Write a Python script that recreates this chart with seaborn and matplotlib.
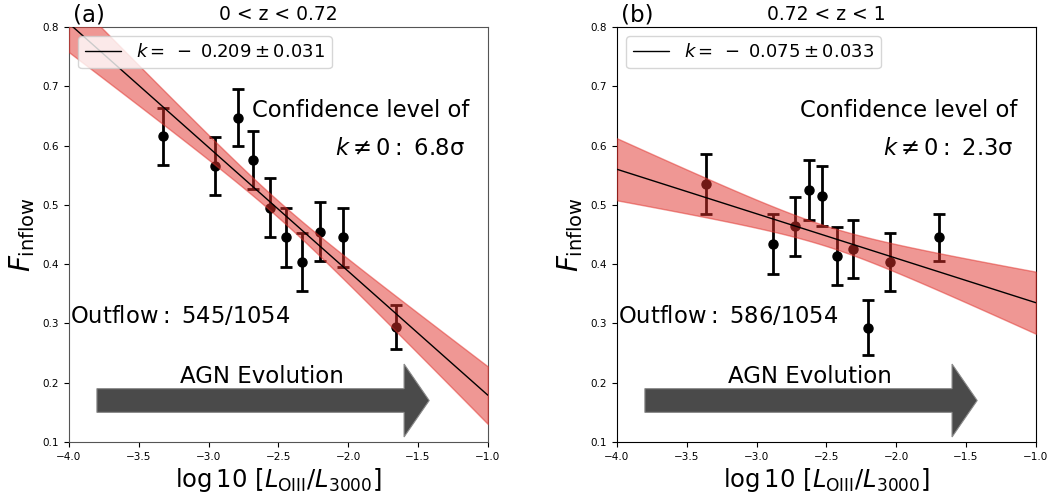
import matplotlib
matplotlib.use("Agg")
import matplotlib.pyplot as plt
import seaborn as sns
import numpy as np
import pandas as pd

# 데이터 (a) 0 < z < 0.72
x_a = [-3.325, -2.955, -2.792, -2.681, -2.561, -2.449, -2.332, -2.203, -2.036, -1.659]
y_a = [0.616, 0.566, 0.647, 0.576, 0.495, 0.445, 0.404, 0.455, 0.445, 0.294]
err_a = [0.048, 0.049, 0.048, 0.049, 0.050, 0.050, 0.049, 0.050, 0.049, 0.037]

# 데이터 (b) 0.72 < z < 1
x_b = [-3.361, -2.885, -2.727, -2.627, -2.528, -2.423, -2.311, -2.200, -2.045, -1.693]
y_b = [0.535, 0.434, 0.464, 0.525, 0.515, 0.414, 0.425, 0.293, 0.404, 0.445]
err_b = [0.050, 0.050, 0.050, 0.050, 0.050, 0.049, 0.049, 0.046, 0.049, 0.040]

# 기울기, 절편, 오차
k_a, b_a, sk_a, s0_a = -0.209, -0.030, 0.031, 0.014
k_b, b_b, sk_b, s0_b = -0.075, 0.260, 0.033, 0.017
pivot = -2.5

panels = [
    dict(tag="(a)", title="0 < z < 0.72", x=x_a, y=y_a, err=err_a,
         k=k_a, b=b_a, sk=sk_a, s0=s0_a, sig="6.8", out="545/1054",
         label=r"$k=\;-\;0.209\pm0.031$", spine="#555555"),
    dict(tag="(b)", title="0.72 < z < 1", x=x_b, y=y_b, err=err_b,
         k=k_b, b=b_b, sk=sk_b, s0=s0_b, sig="2.3", out="586/1054",
         label=r"$k=\;-\;0.075\pm0.033$", spine="black"),
]

sns.set_style("ticks")
plt.rcParams["font.family"] = ["DejaVu Sans"]
plt.rcParams["mathtext.fontset"] = "dejavusans"
plt.rcParams["text.color"] = "black"
plt.rcParams["axes.labelcolor"] = "black"
plt.rcParams["xtick.color"] = "black"
plt.rcParams["ytick.color"] = "black"

fig = plt.figure(figsize=(10.55, 4.99), dpi=100)
axes = [fig.add_axes([0.0654, 0.1142, 0.397, 0.8317]),
        fig.add_axes([0.5848, 0.1142, 0.397, 0.8317])]

xs = np.linspace(-4, -1, 200)

for ax, p in zip(axes, panels):
    df = pd.DataFrame({"x": p["x"], "y": p["y"], "err": p["err"]})

    # 데이터 점 + 오차막대
    ax.errorbar(df["x"], df["y"], yerr=df["err"], fmt="o", color="black",
                ms=6.5, elinewidth=2, capsize=4.5, capthick=2, zorder=2)

    # 적합선과 신뢰 구간
    fit = p["k"] * xs + p["b"]
    half = np.sqrt(p["s0"] ** 2 + (p["sk"] * (xs - pivot)) ** 2)
    ax.fill_between(xs, fit - half, fit + half, color="#e0302a", alpha=0.5,
                    lw=1, zorder=3)
    sns.lineplot(x=xs, y=fit, color="black", lw=1, ax=ax, zorder=4,
                 label=p["label"])

    # 화살표
    ax.arrow(-3.8, 0.17, 2.38, 0, width=0.04, head_width=0.123,
             head_length=0.18, length_includes_head=True,
             fc="#4a4a4a", ec="#8a8a8a", lw=0.8, zorder=5)
    ax.text(-2.62, 0.2, "AGN Evolution", fontsize=16.5, ha="center",
            va="baseline")

    ax.text(-3.993, 0.301, "Outflow$:$ " + p["out"], fontsize=16.3,
            ha="left", va="baseline")
    ax.text(-2.692, 0.6486, "Confidence level of", fontsize=16.3,
            ha="left", va="baseline")
    ax.text(-2.096, 0.584, r"$k\neq0:$ " + p["sig"] + "σ", fontsize=16.3,
            ha="left", va="baseline")

    ax.set_xlim(-4, -1)
    ax.set_ylim(0.1, 0.8)
    ax.set_xticks(np.arange(-4, -0.99, 0.5))
    ax.set_yticks(np.arange(0.1, 0.81, 0.1))
    ax.tick_params(labelsize=7.5, direction="out", length=3.5)
    for s in ax.spines.values():
        s.set_visible(True)
        s.set_color(p["spine"])

    ax.set_title(p["title"], fontsize=13.5, pad=5)
    ax.text(0.01, 1.0, p["tag"], transform=ax.transAxes, fontsize=16.5,
            ha="left", va="bottom")
    ax.set_xlabel(r"$\log10\ [L_{\rm OIII}/L_{3000}]$", fontsize=17.5,
                  labelpad=3)
    ax.set_ylabel(r"$F_{\rm inflow}$", fontsize=20)
    ax.legend(loc="upper left", fontsize=13)

fig.savefig("out.png", dpi=100)
